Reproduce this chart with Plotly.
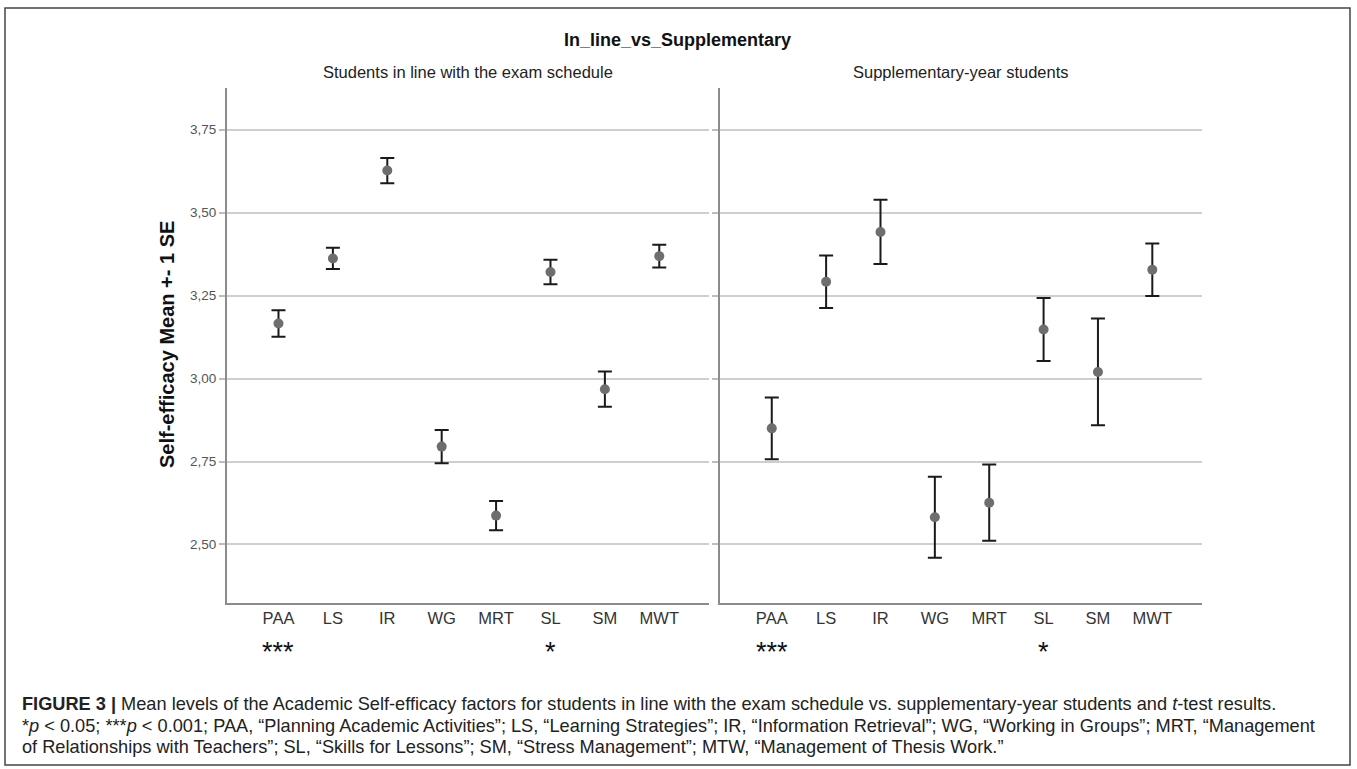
import plotly.graph_objects as go

# ---------------- data ----------------
categories = ["PAA", "LS", "IR", "WG", "MRT", "SL", "SM", "MWT"]
significance = ["***", "", "", "", "", "*", "", ""]

inline_mean = [3.166, 3.362, 3.627, 2.795, 2.587, 3.321, 2.968, 3.369]
inline_se = [0.040, 0.032, 0.038, 0.050, 0.044, 0.037, 0.053, 0.034]

supp_mean = [2.850, 3.292, 3.442, 2.582, 2.626, 3.148, 3.020, 3.328]
supp_se = [0.093, 0.079, 0.097, 0.122, 0.115, 0.095, 0.161, 0.079]

panel_titles = ["Students in line with the exam schedule", "Supplementary-year students"]
main_title = "In_line_vs_Supplementary"
y_title = "Self-efficacy Mean +- 1 SE"
y_ticks = [2.50, 2.75, 3.00, 3.25, 3.50, 3.75]
y_ticktext = ["2,50", "2,75", "3,00", "3,25", "3,50", "3,75"]

caption_lines = [
    "<b>FIGURE 3 |</b> Mean levels of the Academic Self-efficacy factors for students in line with the exam schedule vs. supplementary-year students and <i>t</i>-test results.",
    "*<i>p</i> &lt; 0.05; ***<i>p</i> &lt; 0.001; PAA, \u201cPlanning Academic Activities\u201d; LS, \u201cLearning Strategies\u201d; IR, \u201cInformation Retrieval\u201d; WG, \u201cWorking in Groups\u201d; MRT, \u201cManagement",
    "of Relationships with Teachers\u201d; SL, \u201cSkills for Lessons\u201d; SM, \u201cStress Management\u201d; MTW, \u201cManagement of Thesis Work.\u201d",
]

# ---------------- layout helpers ----------------
W, H = 1357, 769
def px(x):
    return x / W
def py(y):
    return 1 - y / H

FONT = "Liberation Sans, Arial, sans-serif"

fig = go.Figure()

panels = [(inline_mean, inline_se, "x", "y"), (supp_mean, supp_se, "x2", "y2")]
for mean, se, xa, ya in panels:
    fig.add_trace(go.Scatter(
        x=categories, y=mean, xaxis=xa, yaxis=ya, mode="markers",
        marker=dict(color="#6e6e6e", size=10),
        error_y=dict(type="data", array=se, visible=True, color="#1a1a1a",
                     thickness=2, width=7),
        showlegend=False, hoverinfo="x+y",
    ))

x_dom = [[px(226.7), px(709)], [px(720), px(1202)]]
y_dom = [py(602.7), py(88)]
y_range = [2.3245, 3.8758]
x_range = [-0.952, 7.914]

axis_common_x = dict(type="category", range=x_range, showgrid=False, zeroline=False,
                     showline=True, linecolor="#8c8c8c", linewidth=1.5, ticks="",
                     tickfont=dict(family=FONT, size=16.5, color="#333333"),
                     categoryorder="array", categoryarray=categories)
axis_common_y = dict(range=y_range, showgrid=True, gridcolor="#cfcfcf", gridwidth=1.5,
                     zeroline=False, showline=True, linecolor="#8c8c8c", linewidth=1.5,
                     ticks="outside", ticklen=6, tickcolor="#bdbdbd", tickwidth=1.5,
                     tickvals=y_ticks, ticktext=y_ticktext,
                     tickfont=dict(family=FONT, size=13.5, color="#555555"))

fig.update_layout(
    width=W, height=H, margin=dict(l=0, r=0, t=0, b=0),
    paper_bgcolor="white", plot_bgcolor="white",
    xaxis=dict(domain=x_dom[0], anchor="y", **axis_common_x),
    xaxis2=dict(domain=x_dom[1], anchor="y2", **axis_common_x),
    yaxis=dict(domain=y_dom, anchor="x", **axis_common_y),
    yaxis2=dict(domain=y_dom, anchor="x2", showticklabels=False, **axis_common_y),
)

ann = []
# main title
ann.append(dict(text=f"<b>{main_title}</b>", x=px(677), y=py(40), xref="paper", yref="paper",
                showarrow=False, font=dict(family=FONT, size=18, color="#111111"),
                xanchor="center", yanchor="middle"))
# panel titles
for i, t in enumerate(panel_titles):
    cx = (x_dom[i][0] + x_dom[i][1]) / 2
    ann.append(dict(text=t, x=cx, y=py(72), xref="paper", yref="paper", showarrow=False,
                    font=dict(family=FONT, size=16.5, color="#222222"),
                    xanchor="center", yanchor="middle"))
# y title
ann.append(dict(text=f"<b>{y_title}</b>", x=px(167), y=py(345), xref="paper", yref="paper",
                showarrow=False, textangle=-90, font=dict(family=FONT, size=20, color="#111111"),
                xanchor="center", yanchor="middle"))
# significance stars
for xa in ["x", "x2"]:
    for c, s in zip(categories, significance):
        if s:
            ann.append(dict(text=s, x=c, y=py(652), xref=xa, yref="paper", showarrow=False,
                            font=dict(family=FONT, size=27, color="#111111"),
                            xanchor="center", yanchor="middle"))
# caption
for i, line in enumerate(caption_lines):
    ann.append(dict(text=line, x=px(20), y=py(704 + i * 21.5), xref="paper", yref="paper",
                    showarrow=False, font=dict(family=FONT, size=18.2, color="#222222"),
                    xanchor="left", yanchor="middle", align="left"))
fig.update_layout(annotations=ann)

# outer frame
fig.add_shape(type="rect", xref="paper", yref="paper", x0=px(5), x1=px(1350), y0=py(765), y1=py(8),
              line=dict(color="#444444", width=1.5), fillcolor="rgba(0,0,0,0)")

fig.write_html("out.html", config={"displayModeBar": False},
               post_script="document.body.style.margin='0';document.body.style.padding='0';")
